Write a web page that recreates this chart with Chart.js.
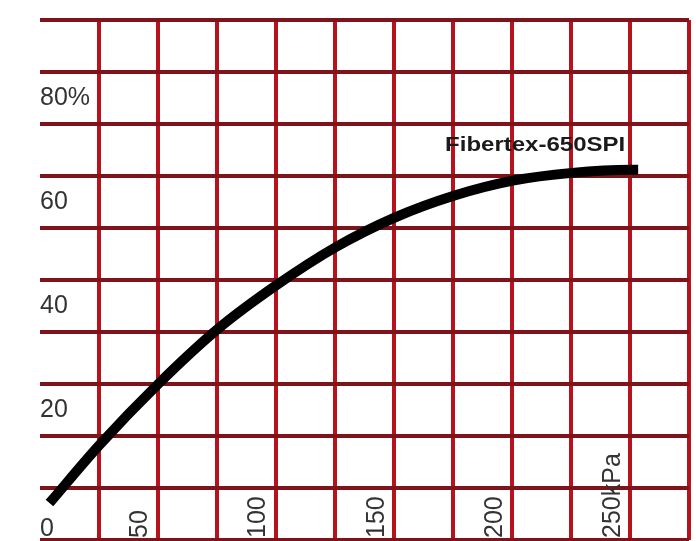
<!DOCTYPE html>
<html>
<head>
<meta charset="utf-8">
<script src="https://cdn.jsdelivr.net/npm/chart.js@4"></script>
<style>
  html, body { margin: 0; padding: 0; background: #fff; }
  canvas { display: block; }
</style>
</head>
<body>
<canvas id="chart" width="696" height="541"></canvas>
<script>
// pressure (kPa) and elongation (%)
const pressure   = [4, 25, 50, 75, 100, 125, 150, 175, 200, 225, 250, 253];
const elongation = [7.1, 18.2, 30, 40.5, 49, 56.3, 62, 66.2, 69.1, 70.6, 71.2, 71.2];

const xTickValues = [50, 100, 150, 200, 250];
const xTickLabels = ['50', '100', '150', '200', '250kPa'];

const yTickValues = [0, 20, 40, 60, 80];
const yTickLabels = [['', '0'], '20', '40', '60', '80%'];

const seriesName = 'Fibertex-650SPI';

const hLineColor = '#7e1419';
const vLineColor = '#b8121c';
const textColor  = '#333';

// draws the rotated kPa labels and the curve name
const textPlugin = {
    id: 'texts',
    afterDraw(chart) {
        const ctx = chart.ctx;
        const x = chart.scales.x;
        const y = chart.scales.y;
        ctx.save();
        ctx.fillStyle = textColor;
        ctx.font = '25px "Liberation Sans", Arial, sans-serif';
        ctx.textAlign = 'left';
        ctx.textBaseline = 'middle';
        xTickValues.forEach((v, i) => {
            ctx.save();
            ctx.translate(x.getPixelForValue(v) - 18, y.getPixelForValue(0) - 2);
            ctx.rotate(-Math.PI / 2);
            ctx.fillText(xTickLabels[i], 0, 0);
            ctx.restore();
        });

        // series name, a bit wide like the scan
        ctx.fillStyle = '#1a1a1a';
        ctx.font = 'bold 20px "Liberation Sans", Arial, sans-serif';
        ctx.textAlign = 'right';
        ctx.translate(x.getPixelForValue(247.5), y.getPixelForValue(75.8));
        ctx.scale(1.2, 1);
        ctx.fillText(seriesName, 0, 0);
        ctx.restore();
    }
};

new Chart(document.getElementById('chart').getContext('2d'), {
    type: 'line',
    data: {
        datasets: [{
            label: seriesName,
            data: pressure.map((p, i) => ({ x: p, y: elongation[i] })),
            borderColor: '#000',
            borderWidth: 10,
            borderCapStyle: 'butt',
            cubicInterpolationMode: 'monotone',
            pointRadius: 0,
            fill: false,
        }]
    },
    options: {
        responsive: false,
        animation: false,
        layout: { padding: { left: 40, right: 7, top: 20, bottom: 1 } },
        plugins: {
            legend: { display: false },
            tooltip: { enabled: false },
        },
        scales: {
            x: {
                type: 'linear',
                min: 0,
                max: 274.5,
                border: { display: false },
                grid: {
                    color: (c) => c.tick && c.tick.value === 0 ? 'rgba(0,0,0,0)' : vLineColor,
                    lineWidth: 4,
                    drawTicks: false,
                },
                ticks: { display: false, stepSize: 25, includeBounds: false },
            },
            y: {
                min: 0,
                max: 100,
                border: { display: false },
                afterFit: (s) => { s.paddingTop = 0; s.paddingBottom = 0; },
                grid: {
                    color: hLineColor,
                    lineWidth: 4,
                    drawTicks: false,
                },
                ticks: {
                    stepSize: 10,
                    autoSkip: false,
                    mirror: true,
                    padding: 0,
                    labelOffset: -26,
                    color: textColor,
                    font: { size: 25, family: '"Liberation Sans", Arial, sans-serif' },
                    callback: (v) => {
                        const i = yTickValues.indexOf(v);
                        return i < 0 ? '' : yTickLabels[i];
                    },
                },
            },
        },
    },
    plugins: [textPlugin],
});
</script>
</body>
</html>
